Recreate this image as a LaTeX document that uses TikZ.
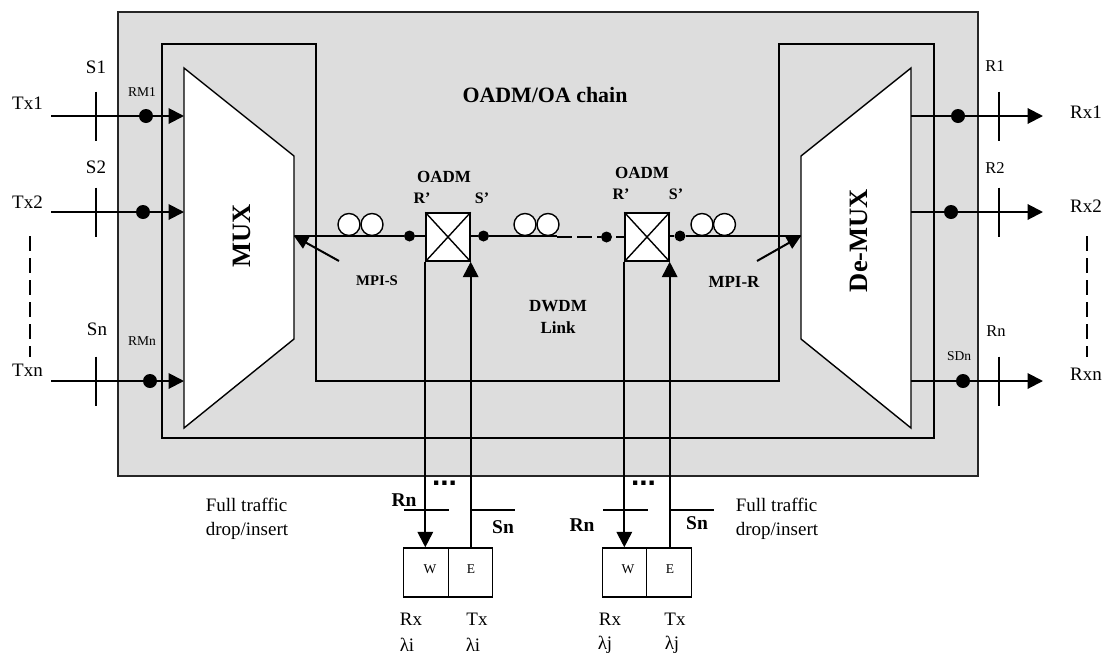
\documentclass[tikz,border=0pt]{standalone}
\usepackage{fontspec}
\setmainfont{Liberation Serif}
\newfontfamily\squaredots{Liberation Sans}
\usetikzlibrary{arrows.meta}
\definecolor{panel}{HTML}{DDDDDD}
\tikzset{
  ln/.style={draw=black,line width=1.4pt},
  sig/.style={draw=black,line width=2pt,-{Triangle[length=15.5pt,width=15.5pt]}},
  thick line/.style={draw=black,line width=2pt},
  dotn/.style={circle,fill=black,inner sep=0pt,minimum size=#1},
  dotn/.default=14pt,
  smalldot/.style={dotn=11pt},
  coil/.style={circle,draw=black,line width=1.4pt,fill=white,inner sep=0pt,minimum size=22pt},
  lab/.style={inner sep=0pt,font=\fontsize{19}{23}\selectfont},
  slab/.style={inner sep=0pt,font=\fontsize{16.5}{20}\selectfont},
  tiny lab/.style={inner sep=0pt,font=\fontsize{13.5}{16}\selectfont},
  blab/.style={inner sep=0pt,font=\fontsize{17}{20}\selectfont\bfseries},
  rslab/.style={inner sep=0pt,font=\fontsize{19.5}{23}\selectfont\bfseries},
  mlab/.style={inner sep=0pt,font=\fontsize{14.7}{17}\selectfont\bfseries},
  biglab/.style={inner sep=0pt,font=\fontsize{26.5}{30}\selectfont\bfseries},
  unit/.style={draw=black,line width=1.4pt,fill=white,inner sep=0pt,minimum width=44.5pt,minimum height=49pt},
  oadm/.style={draw=black,line width=1.4pt,fill=white,inner sep=0pt,minimum width=44pt,minimum height=48pt},
  dashline/.style={draw=black,line width=1.4pt,dash pattern=on 15pt off 7pt},
  every node/.append style={text=black}
}
\begin{document}
\begin{tikzpicture}[x=1pt,y=-1pt]
\useasboundingbox (0,0) rectangle (1112,654);
% panels
\draw[fill=panel,draw=black!85,line width=2pt] (117.5,12) rectangle (978,476);
\draw[ln] (162,44) -- (316,44) -- (316,381) -- (779,381) -- (779,44) -- (934,44) -- (934,438) -- (162,438) -- cycle;
% link
\coordinate (muxport) at (294,236);
\coordinate (demuxport) at (801,236);
\node[oadm] (oa) at (448,237) {};
\node[oadm] (ob) at (647,237) {};
\draw[ln] (oa.north west) -- (oa.south east) (oa.north east) -- (oa.south west);
\draw[ln] (ob.north west) -- (ob.south east) (ob.north east) -- (ob.south west);
\node[smalldot] (d1) at (409.5,236) {};
\node[smalldot] (d2) at (483.5,236) {};
\node[smalldot] (d3) at (606.5,237) {};
\node[smalldot] (d4) at (680,236) {};
\coordinate (ls) at (557,237);
\draw[ln] (muxport) -- (d1) -- (oa.west |- d1);
\draw[ln] (oa.east |- d2) -- (d2) -- (557,236);
\draw[ln,dash pattern=on 15pt off 5pt] (ls) -- (d3);
\draw[ln,dash pattern=on 8pt off 6pt] (ob.west |- d3) -- (d3);
\draw[ln] (ob.east |- d4) -- (d4) -- (demuxport);
\node[coil] (c1) at (349,224.5) {};
\node[coil] (c2) at (372,224.5) {};
\node[coil] (c3) at (525,224.5) {};
\node[coil] (c4) at (548,224.5) {};
\node[coil] (c5) at (702,224.5) {};
\node[coil] (c6) at (724.5,224.5) {};
% MUX / DeMUX
\draw[ln,fill=white] (184,68) -- (294,156) -- (294,339) -- (184,428) -- cycle;
\draw[ln,fill=white] (911,68) -- (801,156) -- (801,339) -- (911,428) -- cycle;
\node[biglab,rotate=90] (mux) at (242,236) {MUX};
\node[biglab,rotate=90] (demux) at (859,240.5) {De-MUX};
% MPI arrows
\coordinate (ms) at (339,261);
\coordinate (mr) at (757,261);
\draw[thick line,-{Triangle[length=14pt,width=13pt]}] (ms) -- (muxport);
\draw[thick line,-{Triangle[length=14pt,width=13pt]}] (mr) -- (demuxport);
% inputs
\foreach \nm/\y/\dx/\t/\ty in {1/116/146/Tx1/103,2/212/143/Tx2/202,n/381/150/Txn/370}{
  \coordinate (in\nm) at (51,\y);
  \coordinate (mi\nm) at (184,\y);
  \draw[sig] (in\nm) -- (mi\nm);
  \node[dotn] (id\nm) at (\dx,\y) {};
  \coordinate (ta\nm) at (96,\y-24.5);
  \coordinate (tb\nm) at (96,\y+24.5);
  \draw[ln] (ta\nm) -- (tb\nm);
  \node[lab] (tl\nm) at (27.5,\ty) {\t};
}
\node[lab] (s1) at (96,67) {S1};
\node[lab] (s2) at (96,167) {S2};
\node[lab] (sn) at (97,329) {Sn};
\node[tiny lab] (rm1) at (142,92) {RM1};
\node[tiny lab] (rmn) at (142,341) {RMn};
% outputs
\foreach \nm/\y/\dx/\t/\ty in {1/116/958/Rx1/112,2/212/951/Rx2/206,n/381/963/Rxn/374}{
  \coordinate (mo\nm) at (911,\y);
  \coordinate (out\nm) at (1043,\y);
  \draw[sig] (mo\nm) -- (out\nm);
  \node[dotn] (od\nm) at (\dx,\y) {};
  \coordinate (ua\nm) at (999,\y-24.5);
  \coordinate (ub\nm) at (999,\y+24.5);
  \draw[ln] (ua\nm) -- (ub\nm);
  \node[lab] (rl\nm) at (1086,\ty) {\t};
}
\node[slab] (r1) at (995,66) {R1};
\node[slab] (r2) at (995,168) {R2};
\node[slab] (rn) at (996,331) {Rn};
\node[tiny lab] (sdn) at (959,356) {SDn};
% dashed side lines
\coordinate (dl1) at (30,236); \coordinate (dl2) at (30,357);
\coordinate (dr1) at (1087,236); \coordinate (dr2) at (1087,357);
\draw[dashline] (dl1) -- (dl2);
\draw[dashline] (dr1) -- (dr2);
% drop/insert
\node[unit] (wa) at (426,572.5) {};
\node[unit] (ea) at (470.5,572.5) {};
\node[unit] (wb) at (624.5,572.5) {};
\node[unit] (eb) at (669,572.5) {};
\node[tiny lab] (wal) at (430,569) {W};
\node[tiny lab] (eal) at (471,569) {E};
\node[tiny lab] (wbl) at (628,569) {W};
\node[tiny lab] (ebl) at (670,569) {E};
\draw[sig] (oa.south west) -- (oa.south west |- wa.north);
\draw[sig] (oa.south east |- ea.north) -- (oa.south east);
\draw[sig] (ob.south west) -- (ob.south west |- wb.north);
\draw[sig] (ob.south east |- eb.north) -- (ob.south east);
\foreach \p/\x in {a/426,b/625}{
  \coordinate (ra\p) at (\x-22,510); \coordinate (rb\p) at (\x+23,510);
  \coordinate (sa\p) at (\x+44,510); \coordinate (sb\p) at (\x+89,510);
  \draw[ln] (ra\p) -- (rb\p);
  \draw[ln] (sa\p) -- (sb\p);
  \node[inner sep=0pt,font=\fontsize{30}{30}\squaredots\selectfont\bfseries] (el\p) at (\x+18.5,483) {...};
}
\node[lab] (rxa) at (411,619) {Rx};
\node[lab] (txa) at (477,619) {Tx};
\node[lab] (rxb) at (610,619) {Rx};
\node[lab] (txb) at (675,619) {Tx};
\node[rslab] (rna) at (404,500) {Rn};
\node[rslab] (sna) at (503,527) {Sn};
\node[rslab] (rnb) at (582,525) {Rn};
\node[rslab] (snb) at (697,523) {Sn};
\node[lab] (li1) at (407,645) {λi};
\node[lab] (li2) at (473,645) {λi};
\node[lab] (lj1) at (605,645) {λj};
\node[lab] (lj2) at (672,645) {λj};
\node[lab,align=left,font=\fontsize{19}{24}\selectfont] (fta) at (247,519) {Full traffic\\drop/insert};
\node[lab,align=left,font=\fontsize{19}{24}\selectfont] (ftb) at (777,519) {Full traffic\\drop/insert};
% labels
\node[inner sep=0pt,font=\fontsize{21.9}{26}\selectfont\bfseries] (chain) at (545,95) {OADM/OA chain};
\node[blab] (oal) at (444,177) {OADM};
\node[blab,font=\fontsize{16}{19}\selectfont\bfseries] (oar) at (422,198) {R’};
\node[blab,font=\fontsize{16}{19}\selectfont\bfseries] (oas) at (482,198) {S’};
\node[blab] (obl) at (642,173) {OADM};
\node[blab,font=\fontsize{16}{19}\selectfont\bfseries] (obr) at (621,194) {R’};
\node[blab,font=\fontsize{16}{19}\selectfont\bfseries] (obs) at (676,194) {S’};
\node[mlab] (mpis) at (377,281) {MPI-S};
\node[blab] (mpir) at (734,282) {MPI-R};
\node[blab,align=center,font=\fontsize{17}{22}\selectfont\bfseries] (link) at (558,317) {DWDM\\Link};
\end{tikzpicture}
\end{document}
